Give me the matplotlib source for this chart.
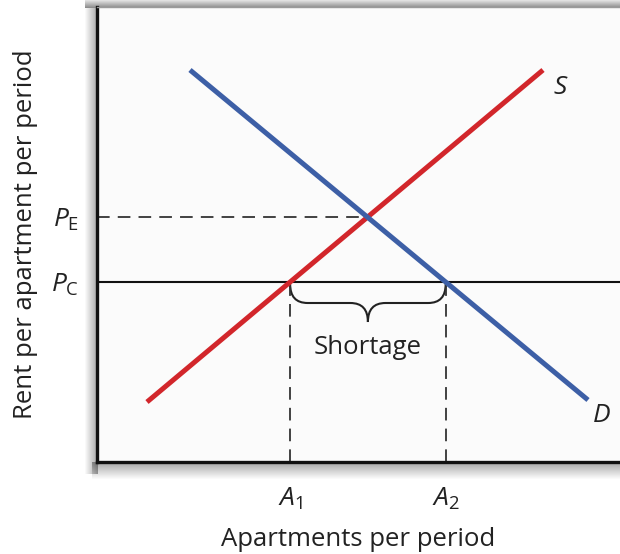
import numpy as np
import matplotlib as mpl
import matplotlib.pyplot as plt
from matplotlib.path import Path
from matplotlib.patches import PathPatch

mpl.rcParams.update({
    "font.family": "Open Sans",
    "mathtext.fontset": "custom",
    "mathtext.rm": "Open Sans",
    "mathtext.it": "Open Sans:italic",
    "font.size": 18,
})

# curves: endpoints (quantity, price)
supply_q = [1.0, 8.92]
supply_p = [1.2, 7.84]
demand_q = [1.86, 9.82]
demand_p = [7.84, 1.24]
price_ceiling = 3.6
shortage_label = "Shortage"

RED = "#d2262b"
BLUE = "#3d5fa6"
INK = "#222222"


def line_at(q, p, y):
    # quantity on a straight curve at price y
    return q[0] + (y - p[0]) * (q[1] - q[0]) / (p[1] - p[0])


def equilibrium():
    ms = (supply_p[1] - supply_p[0]) / (supply_q[1] - supply_q[0])
    md = (demand_p[1] - demand_p[0]) / (demand_q[1] - demand_q[0])
    x = (demand_p[0] - md * demand_q[0] - supply_p[0] + ms * supply_q[0]) / (ms - md)
    return x, supply_p[0] + ms * (x - supply_q[0])


def shade(fig, rect, alphas, vertical=True):
    # soft grey band to mimic the drop shadow of the original
    a = np.asarray(alphas)
    img = np.zeros((len(a), 1, 4)) if vertical else np.zeros((1, len(a), 4))
    if vertical:
        img[:, 0, 3] = a
    else:
        img[0, :, 3] = a
    sax = fig.add_axes(rect, zorder=0)
    sax.imshow(img, aspect="auto", interpolation="bilinear")
    sax.axis("off")


W, H = 620, 554
fig = plt.figure(figsize=(W / 100, H / 100), dpi=100)

shade(fig, [85 / W, (H - 8) / H, 535 / W, 8 / H], np.linspace(0.12, 0.45, 8))
shade(fig, [84 / W, (H - 474) / H, 14 / W, 466 / H], np.linspace(0.0, 0.35, 14), vertical=False)
shade(fig, [92 / W, (H - 480) / H, 528 / W, 18 / H], np.linspace(0.35, 0.0, 18))

ax = fig.add_axes([97 / W, 92 / H, 523 / W, 455 / H], zorder=2)
ax.set_facecolor("#fbfbfb")
ax.set_xlim(0, 10.46)
ax.set_ylim(0, 9.1)

qe, pe = equilibrium()
a1 = line_at(supply_q, supply_p, price_ceiling)
a2 = line_at(demand_q, demand_p, price_ceiling)

dash = dict(color="#333333", lw=1.3, ls=(0, (7, 4.5)))
ax.plot([0, qe], [pe, pe], **dash)
ax.plot([a1, a1], [0, price_ceiling], **dash)
ax.plot([a2, a2], [0, price_ceiling], **dash)
ax.axhline(price_ceiling, color="#111111", lw=1.5)

ax.plot(supply_q, supply_p, color=RED, lw=3.6, solid_capstyle="butt")
ax.plot(demand_q, demand_p, color=BLUE, lw=3.6, solid_capstyle="butt")

# brace under the ceiling between A1 and A2
y0, yh, yt, r = price_ceiling - 0.04, 3.18, 2.8, 0.35
m = (a1 + a2) / 2
verts = [(a1, y0), (a1, yh), (a1 + r, yh), (m - r, yh), (m, yh), (m, yt),
         (m, yh), (m + r, yh), (a2 - r, yh), (a2, yh), (a2, y0)]
codes = [Path.MOVETO, Path.CURVE3, Path.CURVE3, Path.LINETO, Path.CURVE3, Path.CURVE3,
         Path.CURVE3, Path.CURVE3, Path.LINETO, Path.CURVE3, Path.CURVE3]
ax.add_patch(PathPatch(Path(verts, codes), fill=False, color=INK, lw=1.5))

ax.text(m, 2.3, shortage_label, ha="center", va="center", fontsize=18.5, color=INK)
ax.text(9.26, 7.5, "S", style="italic", ha="center", va="center", fontsize=19, color=INK)
ax.text(10.1, 0.94, "D", style="italic", ha="center", va="center", fontsize=19, color=INK)

ax.set_xticks([a1, a2], [r"$\mathit{A}_{1}$", r"$\mathit{A}_{2}$"])
ax.set_yticks([price_ceiling, pe], [r"$\mathit{P}_{\mathrm{C}}$", r"$\mathit{P}_{\mathrm{E}}$"])
ax.tick_params(length=0, labelsize=19, colors=INK)
ax.tick_params(axis="x", pad=17)
ax.tick_params(axis="y", pad=13)
ax.set_xlabel("Apartments per period", fontsize=18.5, color=INK, labelpad=11)
ax.set_ylabel("Rent per apartment per period", fontsize=18.5, color=INK, labelpad=9)

for side in ("left", "bottom"):
    ax.spines[side].set_linewidth(2.4)
    ax.spines[side].set_color("#111111")
ax.spines["right"].set_visible(False)
ax.spines["top"].set_color("#9a9a9a")
ax.spines["top"].set_linewidth(1.0)

fig.savefig("out.png", dpi=100)
